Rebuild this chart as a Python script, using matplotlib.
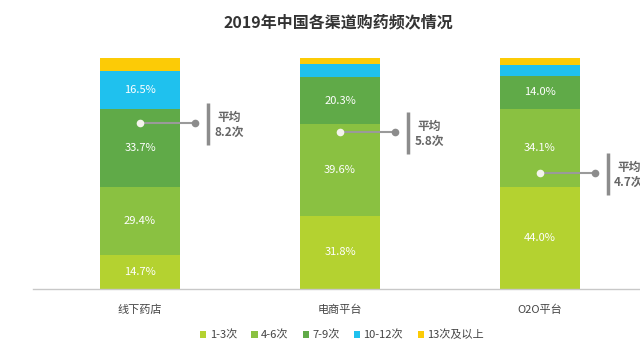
import matplotlib
matplotlib.use("Agg")
import matplotlib.pyplot as plt
from matplotlib.patches import Patch
import numpy as np

plt.rcParams['font.family'] = ['Noto Sans CJK SC', 'DejaVu Sans']

title = "2019年中国各渠道购药频次情况"
categories = ["线下药店", "电商平台", "O2O平台"]
series_names = ["1-3次", "4-6次", "7-9次", "10-12次", "13次及以上"]
s_1_3 = [14.7, 31.8, 44.0]
s_4_6 = [29.4, 39.6, 34.1]
s_7_9 = [33.7, 20.3, 14.0]
s_10_12 = [16.5, 5.6, 5.0]
s_13p = [5.7, 2.7, 2.9]
labeled = [True, True, True, True, False]
avg_labels = ["8.2次", "5.8次", "4.7次"]
avg_anchor = [71.9, 68.0, 50.2]  # vertical placement of the callout (layout)

colors = ["#B4D230", "#8AC141", "#60AA48", "#1FC1EE", "#FCCB06"]
series = [s_1_3, s_4_6, s_7_9, s_10_12, s_13p]

W, H = 640, 352
fig = plt.figure(figsize=(W / 100, H / 100), dpi=100)
ax = fig.add_axes([33 / W, (H - 289) / H, 1 - 33 / W, (289 - 58) / H])

x = np.arange(len(categories))
bottom = np.zeros(len(categories))
for vals, c, lab in zip(series, colors, labeled):
    v = np.array(vals)
    ax.bar(x, v, width=0.4, bottom=bottom, color=c, edgecolor='none', zorder=2)
    if lab:
        for xi, vi, bi in zip(x, v, bottom):
            if vi >= 10:
                ax.text(xi, bi + vi / 2, f"{vi:.1f}%", ha='center', va='center',
                        color='white', fontsize=8, zorder=3)
    bottom += v

ax.set_xlim(-0.535, 2.5)
ax.set_ylim(0, 100)
for s in ['top', 'right', 'left']:
    ax.spines[s].set_visible(False)
ax.spines['bottom'].set_color('#C8C8C8')
ax.spines['bottom'].set_linewidth(1.0)
ax.set_yticks([])
ax.set_xticks(x)
ax.set_xticklabels(categories, fontsize=8, color='#444444')
ax.tick_params(axis='x', length=0, pad=11)

# average callouts
for xi, ay, lab in zip(x, avg_anchor, avg_labels):
    ax.plot([xi, xi + 0.275], [ay, ay], color='#9A9A9A', lw=1.5, zorder=4,
            solid_capstyle='butt', clip_on=False)
    ax.plot([xi], [ay], 'o', ms=5.5, mfc='#F4F4EC', mec='none', zorder=5, clip_on=False)
    ax.plot([xi + 0.275], [ay], 'o', ms=5.5, mfc='#8C8C8C', mec='none', zorder=5, clip_on=False)
    ax.plot([xi + 0.34, xi + 0.34], [ay - 9.5, ay + 8.7], color='#8C8C8C', lw=2.5,
            solid_capstyle='butt', zorder=4, clip_on=False)
    ax.text(xi + 0.445, ay + 2.3, "平均", ha='center', va='center', fontsize=8.5,
            color='#666666', fontweight='bold', clip_on=False)
    ax.text(xi + 0.445, ay - 4.0, lab, ha='center', va='center', fontsize=8.5,
            color='#666666', fontweight='bold', clip_on=False)

fig.text(338 / W, 1 - 22 / H, title, ha='center', va='center', fontsize=11.5,
         fontweight='bold', color='#333333')

handles = [Patch(facecolor=c, edgecolor='none') for c in colors]
fig.legend(handles, series_names, loc='center', bbox_to_anchor=(342 / W, 1 - 335 / H),
           ncol=5, frameon=False, fontsize=8, handlelength=0.55, handleheight=0.55,
           handletextpad=0.3, columnspacing=1.3, labelcolor='#444444')

fig.savefig("out.png", dpi=100, facecolor='white')
